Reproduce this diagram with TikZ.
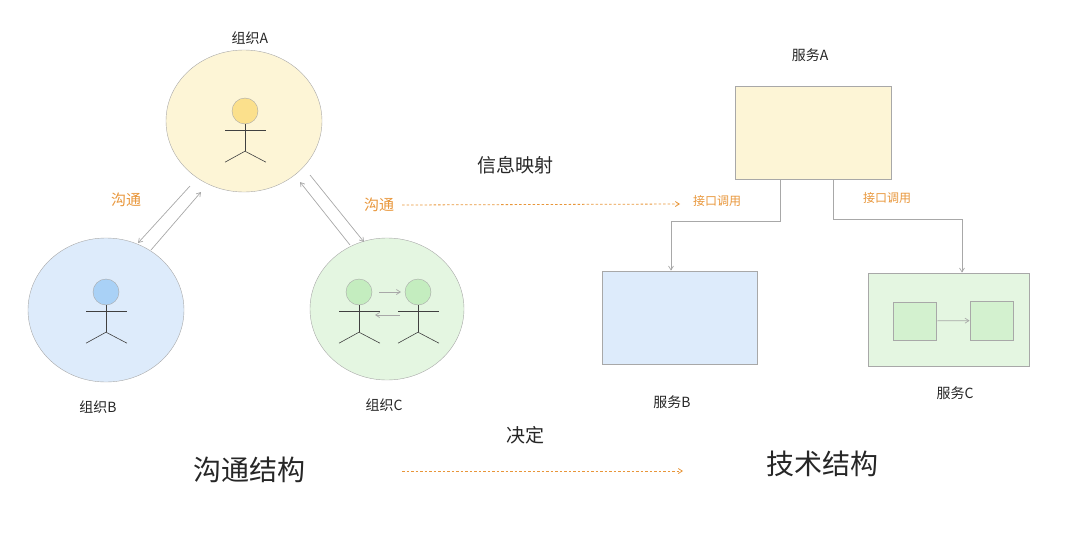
\documentclass[tikz,border=0pt]{standalone}
\usepackage{fontspec}
\setmainfont{Noto Sans CJK SC}
\usetikzlibrary{arrows.meta,shapes.geometric}
\definecolor{org}{HTML}{E8963A}
\definecolor{yfill}{HTML}{FDF5D6}
\definecolor{yhead}{HTML}{FBE08C}
\definecolor{bfill}{HTML}{DDEBFB}
\definecolor{bhead}{HTML}{A9D1F6}
\definecolor{gfill}{HTML}{E4F6E1}
\definecolor{ghead}{HTML}{C4EDBF}
\definecolor{ginner}{HTML}{D3F1CF}
\definecolor{edge}{HTML}{A8A8A8}
\tikzset{
  lbl/.style={font=\fontsize{14}{16}\selectfont, text=black!85},
  olbl/.style={font=\fontsize{15}{17}\selectfont, text=org},
  slbl/.style={font=\fontsize{12}{14}\selectfont, text=org},
  ar/.style={draw=edge, line width=0.7pt, -{Straight Barb[length=4pt,width=5pt]}},
  dar/.style={draw=org, line width=0.8pt, dash pattern=on 2.5pt off 2pt, -{Straight Barb[length=4pt,width=5pt]}},
  fig/.style={draw=black!75, line width=0.6pt},
  big/.style={font=\fontsize{28}{32}\selectfont, text=black!85},
  mid/.style={font=\fontsize{19}{22}\selectfont, text=black!85},
  oval/.style={ellipse, draw=edge, inner sep=0},
  head/.style={circle, draw=edge, minimum size=26pt, inner sep=0},
  box/.style={rectangle, draw=edge, line width=0.8pt, inner sep=0},
}
\newcommand{\stick}[4]{% x y(head centre) headcolor name
  \node[head, fill=#3] (#4) at (#1,#2) {};
  \draw[fig] (#4.south) -- ++(0,27);
  \draw[fig] (#4.south) ++(-20,6) -- ++(41,0);
  \draw[fig] (#4.south) ++(0,27) -- ++(-20,11);
  \draw[fig] (#4.south) ++(0,27) -- ++(21,11);
}
\begin{document}
\begin{tikzpicture}[x=1pt,y=-1pt]
\useasboundingbox (0,0) rectangle (1080,533);
% circles
\node[oval, fill=yfill, minimum width=156pt, minimum height=142pt] (cA) at (244,121) {};
\node[oval, fill=bfill, minimum width=156pt, minimum height=144pt] (cB) at (106,310) {};
\node[oval, fill=gfill, minimum width=154pt, minimum height=142pt] (cC) at (387,309) {};
\stick{245}{111}{yhead}{hA}
\stick{106}{292}{bhead}{hB}
\stick{359}{292}{ghead}{hC1}
\stick{418}{292}{ghead}{hC2}
\coordinate (c1) at (379,292); \coordinate (c2) at (401,292);
\coordinate (c3) at (400,315); \coordinate (c4) at (375,315);
\draw[ar] (c1) -- (c2);
\draw[ar] (c3) -- (c4);
\node[lbl] (tA) at (250,38) {组织A};
\node[lbl] (tB) at (98,407) {组织B};
\node[lbl] (tC) at (384,405) {组织C};
% communication arrows
\coordinate (ab1) at (190,186); \coordinate (ab2) at (138,243);
\coordinate (ab3) at (151,250); \coordinate (ab4) at (201,192);
\coordinate (ac1) at (310,175); \coordinate (ac2) at (364,242);
\coordinate (ac3) at (350,245); \coordinate (ac4) at (300,182);
\draw[ar] (ab1) -- (ab2);
\draw[ar] (ab3) -- (ab4);
\draw[ar] (ac1) -- (ac2);
\draw[ar] (ac3) -- (ac4);
\node[olbl] (g1) at (126,200) {沟通};
\node[olbl] (g2) at (379,205) {沟通};
\node[mid] (map) at (515,165) {信息映射};
% services
\node[box, fill=yfill, minimum width=156pt, minimum height=93pt] (sA) at (813,132.5) {};
\node[box, fill=bfill, minimum width=155pt, minimum height=93pt] (sB) at (679.5,317.5) {};
\node[box, fill=gfill, minimum width=161pt, minimum height=93pt] (sC) at (948.5,319.5) {};
\node[box, fill=ginner, minimum width=43pt, minimum height=38pt] (i1) at (914.5,321) {};
\node[box, fill=ginner, minimum width=43pt, minimum height=39pt] (i2) at (991.5,320.5) {};
\draw[ar] (i1) -- (i2);
\node[lbl] (tsA) at (810,55) {服务A};
\node[lbl] (tsB) at (672,402) {服务B};
\node[lbl] (tsC) at (955,393) {服务C};
\coordinate (pB) at (780,179);
\coordinate (pC) at (833,179);
\draw[ar] (pB) |- (671,221) -- (sB.north -| 671,0);
\draw[ar] (pC) |- (962,219) -- (sC.north -| 962,0);
\node[slbl] (k1) at (717,201) {接口调用};
\node[slbl] (k2) at (887,198) {接口调用};
\coordinate (d0) at (402,205);
\coordinate (d1) at (680,204);
\draw[dar] (d0) -- (d1);
% bottom
\node[big] (comm) at (249,470) {沟通结构};
\node[big] (tech) at (822,464) {技术结构};
\node[mid] (dec) at (525,435) {决定};
\coordinate (e1) at (402,471);
\coordinate (e2) at (683,471);
\draw[dar] (e1) -- (e2);
\end{tikzpicture}
\end{document}
